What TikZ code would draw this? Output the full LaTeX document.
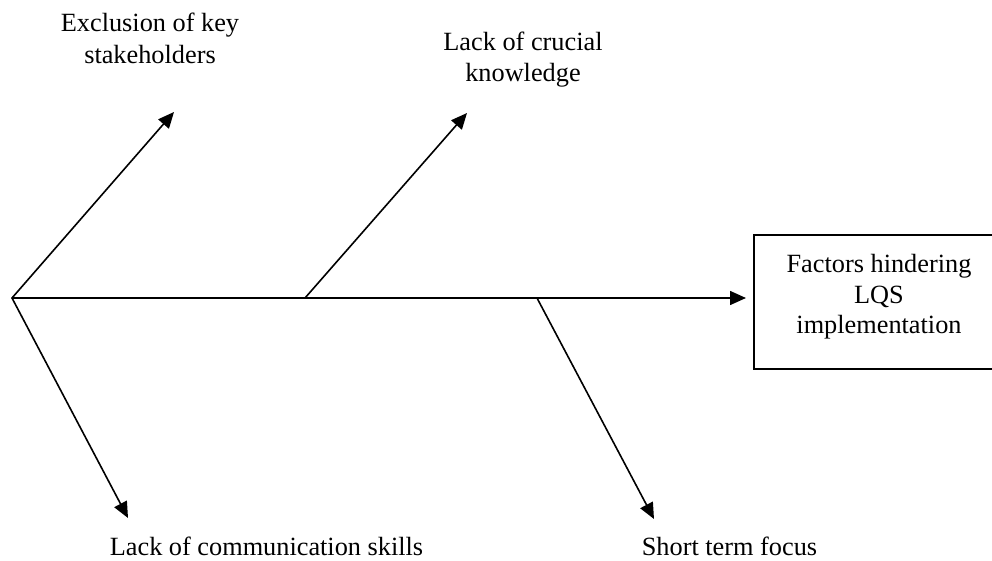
\documentclass[tikz,border=0pt]{standalone}
\usepackage{fontspec}
\setmainfont{Liberation Serif}
\usetikzlibrary{arrows.meta}
\begin{document}
\begin{tikzpicture}[x=0.5pt,y=-0.5pt,
  lbl/.style={font=\fontsize{13.15}{15.2}\selectfont, align=center, inner sep=0pt},
  arr/.style={line width=0.8pt, -{Triangle[length=8pt,width=7pt]}},
  dbl/.style={line width=0.8pt, {Triangle[length=8pt,width=7pt]}-{Triangle[length=8pt,width=7pt]}},
  frame/.style={draw, line width=0.8pt}]
\useasboundingbox (0,0) rectangle (992,561);
% spine and branch points
\coordinate (o) at (12,298);
\coordinate (b1) at (305,298);
\coordinate (b2) at (537,298);
% free ends of the bones
\coordinate (t1) at (174,112);
\coordinate (t2) at (467,113);
\coordinate (d1) at (128,518);
\coordinate (d2) at (654,519);
% effect (text, with its frame drawn round it; the right side lies past the page edge)
\node[lbl] (fac) at (879,297) {Factors hindering\\LQS\\implementation};
\draw[frame] ([shift={(125,-62)}]fac.center) -- ([shift={(-125,-62)}]fac.center)
  -- ([shift={(-125,72)}]fac.center) -- ([shift={(125,72)}]fac.center);
% labels
\node[lbl, font=\fontsize{13.15}{16}\selectfont, anchor=north] (ex) at (150,13) {Exclusion of key\\stakeholders};
\node[lbl, anchor=north] (kn) at (523,32) {Lack of crucial\\knowledge};
\node[lbl, anchor=base] (cs) at (266.5,556) {Lack of communication skills};
\node[lbl, anchor=base] (st) at (729.5,556) {Short term focus};
% bones
\draw[dbl] (t1) -- (o) -- (d1);
\draw[arr] (o) -- ([shift={(-133,0)}]fac.center |- o);
\draw[arr] (b1) -- (t2);
\draw[arr] (b2) -- (d2);
\end{tikzpicture}
\end{document}
